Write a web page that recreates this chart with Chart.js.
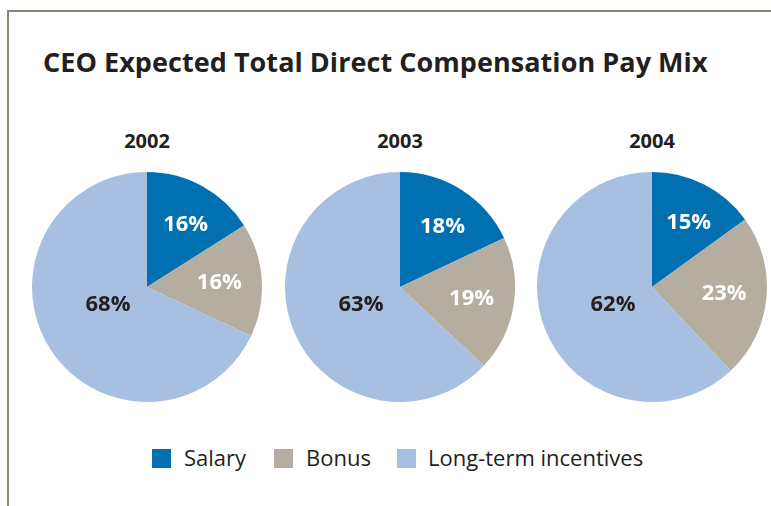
<!DOCTYPE html>
<html>
<head>
<meta charset="utf-8">
<script src="https://cdn.jsdelivr.net/npm/chart.js@4"></script>
<style>
  html, body { margin: 0; padding: 0; background: #fff; }
  body { width: 771px; height: 506px; position: relative; overflow: hidden; font-family: 'Open Sans', sans-serif; color: #231f20; }
  #frameTop { position: absolute; left: 7px; top: 10px; width: 764px; height: 2px; background: #8c8373; }
  #frameLeft { position: absolute; left: 7px; top: 10px; width: 2px; height: 496px; background: #8c8373; }
  #title { position: absolute; left: 43px; top: 44px; font-size: 27px; font-weight: 700; white-space: nowrap; line-height: 36px; letter-spacing: 0.05px; }
  .year { position: absolute; width: 120px; text-align: center; font-size: 20px; font-weight: 700; line-height: 24px; top: 129px; }
  .pie { position: absolute; width: 250px; height: 250px; }
  #legend { position: absolute; top: 446px; left: 0; width: 771px; height: 26px; }
  .lg { position: absolute; top: -2px; height: 26px; font-size: 22px; line-height: 26px; white-space: nowrap; }
  .sw { position: absolute; top: 3px; width: 19px; height: 19px; }
</style>
</head>
<body>
<div id="frameTop"></div>
<div id="frameLeft"></div>
<div id="title"></div>
<div id="years"></div>
<div id="pies"></div>
<div id="legend"></div>
<script>
// ---- data ----
const chartTitle = 'CEO Expected Total Direct Compensation Pay Mix';
const categories = ['Salary', 'Bonus', 'Long-term incentives'];
const years = ['2002', '2003', '2004'];
const values2002 = [16, 16, 68];
const values2003 = [18, 19, 63];
const values2004 = [15, 23, 62];
const seriesValues = [values2002, values2003, values2004];
const colors = ['#0070b0', '#b4ada0', '#a7bfe0'];
const labelColors = ['#ffffff', '#ffffff', '#231f20'];

// ---- layout ----
const centersX = [147, 400, 652];
const centerY = 287;
const legendSwatchX = [152, 274, 397];
const legendTextX = [184, 306, 428];

document.getElementById('title').textContent = chartTitle;

const yearsDiv = document.getElementById('years');
years.forEach((y, i) => {
  const d = document.createElement('div');
  d.className = 'year';
  d.style.left = (centersX[i] - 60) + 'px';
  d.textContent = y;
  yearsDiv.appendChild(d);
});

const legend = document.getElementById('legend');
categories.forEach((c, i) => {
  const s = document.createElement('div');
  s.className = 'sw';
  s.style.left = legendSwatchX[i] + 'px';
  s.style.background = colors[i];
  legend.appendChild(s);
  const t = document.createElement('div');
  t.className = 'lg';
  t.style.left = legendTextX[i] + 'px';
  t.textContent = c;
  legend.appendChild(t);
});

const pctLabels = {
  id: 'pctLabels',
  afterDatasetsDraw(chart) {
    const ctx = chart.ctx;
    const meta = chart.getDatasetMeta(0);
    const data = chart.data.datasets[0].data;
    ctx.save();
    ctx.font = '700 22px "Open Sans", sans-serif';
    ctx.textAlign = 'center';
    ctx.textBaseline = 'middle';
    meta.data.forEach((arc, i) => {
      const p = arc.getProps(['x', 'y', 'startAngle', 'endAngle', 'outerRadius'], true);
      let x, y;
      if (i === 2) {
        x = p.x - 39;
        y = p.y + 18;
      } else {
        const mid = (p.startAngle + p.endAngle) / 2 + (i === 0 ? 0.05 : 0);
        const r = p.outerRadius * (i === 0 ? 0.64 : 0.63);
        x = p.x + Math.cos(mid) * r;
        y = p.y + Math.sin(mid) * r;
      }
      ctx.fillStyle = labelColors[i];
      ctx.fillText(data[i] + '%', x, y);
    });
    ctx.restore();
  }
};

const piesDiv = document.getElementById('pies');
seriesValues.forEach((vals, i) => {
  const wrap = document.createElement('div');
  wrap.className = 'pie';
  wrap.style.left = (centersX[i] - 125) + 'px';
  wrap.style.top = (centerY - 125) + 'px';
  const cv = document.createElement('canvas');
  cv.width = 250; cv.height = 250;
  wrap.appendChild(cv);
  piesDiv.appendChild(wrap);
  new Chart(cv, {
    type: 'pie',
    data: {
      labels: categories,
      datasets: [{ data: vals, backgroundColor: colors, borderWidth: 0 }]
    },
    options: {
      responsive: false,
      animation: false,
      layout: { padding: 10 },
      plugins: { legend: { display: false }, tooltip: { enabled: false } }
    },
    plugins: [pctLabels]
  });
});
</script>
</body>
</html>
